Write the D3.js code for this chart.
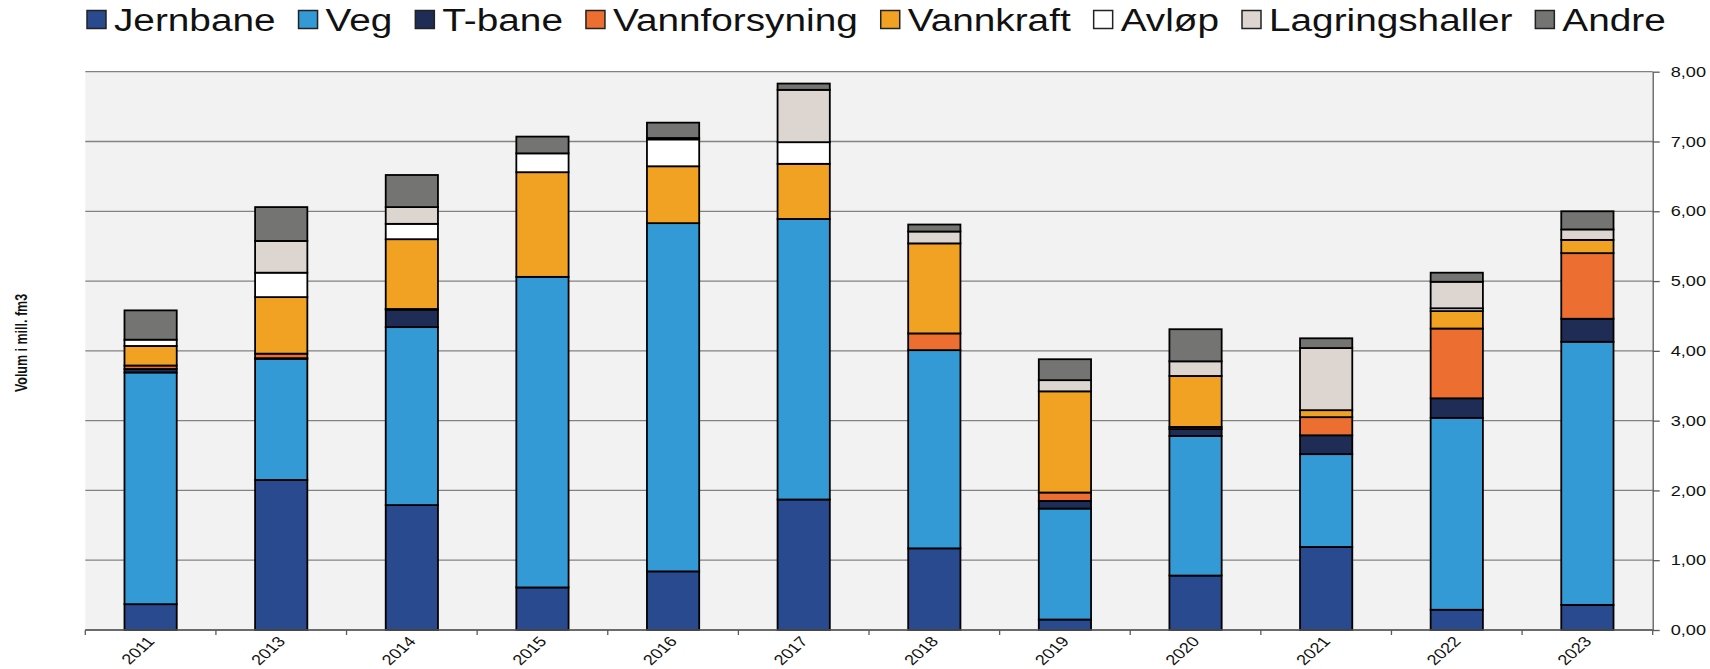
<!DOCTYPE html>
<html>
<head>
<meta charset="utf-8">
<script src="https://cdn.jsdelivr.net/npm/d3@7"></script>
<style>
  body { margin: 0; background: #fff; }
  text { font-family: "Liberation Sans", Arial, sans-serif; fill: #111; }
</style>
</head>
<body>
<div id="myChart"></div>
<script>
// categories
var years = ["2011", "2013", "2014", "2015", "2016", "2017", "2018", "2019", "2020", "2021", "2022", "2023"];

// volumes, mill. fm3
var jernbane       = [0.37, 2.15, 1.79, 0.61, 0.84, 1.87, 1.17, 0.15, 0.78, 1.19, 0.29, 0.36];
var veg            = [3.32, 1.735, 2.55, 4.45, 4.99, 4.02, 2.84, 1.59, 2.00, 1.33, 2.75, 3.77];
var tbane          = [0.05, 0.01, 0.25, 0, 0, 0, 0, 0.11, 0.10, 0.27, 0.28, 0.33];
var vannforsyning  = [0.05, 0.065, 0.01, 0, 0, 0, 0.24, 0.12, 0.03, 0.26, 1.00, 0.94];
var vannkraft      = [0.28, 0.81, 1.00, 1.50, 0.815, 0.79, 1.29, 1.45, 0.73, 0.10, 0.25, 0.19];
var avlop          = [0.09, 0.35, 0.22, 0.27, 0.385, 0.31, 0, 0, 0, 0, 0.04, 0];
var lagringshaller = [0, 0.455, 0.24, 0, 0.02, 0.75, 0.17, 0.16, 0.21, 0.89, 0.38, 0.15];
var andre          = [0.42, 0.485, 0.46, 0.24, 0.22, 0.09, 0.10, 0.30, 0.46, 0.14, 0.13, 0.26];

var seriesNames = ["Jernbane", "Veg", "T-bane", "Vannforsyning", "Vannkraft", "Avløp", "Lagringshaller", "Andre"];
var seriesValues = [jernbane, veg, tbane, vannforsyning, vannkraft, avlop, lagringshaller, andre];
var seriesColors = ["#294a8f", "#349ad5", "#1f2d56", "#ec6f31", "#f1a222", "#ffffff", "#ddd6d0", "#747472"];

var yTicks = [0, 1, 2, 3, 4, 5, 6, 7, 8];

// the original picture is stretched sideways, so text is too
var sx = 1.25;

const W = 1710, H = 669;
const margin = { top: 71.7, right: 57.3, bottom: 39, left: 85.3 };
const width = W - margin.left - margin.right;
const height = H - margin.top - margin.bottom;

var root = d3.select("#myChart")
  .append("svg")
  .attr("width", W)
  .attr("height", H);

var svg = root.append("g")
  .attr("transform", "translate(" + margin.left + "," + margin.top + ")");

var x = d3.scaleBand().domain(years).range([0, width]).paddingInner(0.6).paddingOuter(0.3);
var y = d3.scaleLinear().domain([0, 8]).range([height, 0]);

// plot background + gridlines
svg.append("rect")
  .attr("width", width)
  .attr("height", height)
  .attr("fill", "#f2f2f2");

svg.selectAll(".grid")
  .data(yTicks)
  .enter()
  .append("line")
  .attr("class", "grid")
  .attr("x1", 0)
  .attr("x2", width)
  .attr("y1", function(d) { return y(d); })
  .attr("y2", function(d) { return y(d); })
  .attr("stroke", "#828282")
  .attr("stroke-width", 1.3);

// stack the series
var rows = years.map(function(yr, i) {
  var r = { year: yr };
  seriesNames.forEach(function(name, k) { r[name] = seriesValues[k][i]; });
  return r;
});
var stacked = d3.stack().keys(seriesNames)(rows);

var layers = svg.selectAll(".layer")
  .data(stacked)
  .enter()
  .append("g")
  .attr("class", "layer")
  .attr("fill", function(d, i) { return seriesColors[i]; });

layers.selectAll("rect")
  .data(function(d) { return d.filter(function(p) { return p[1] - p[0] > 0; }); })
  .enter()
  .append("rect")
  .attr("x", function(d) { return x(d.data.year); })
  .attr("width", x.bandwidth())
  .attr("y", function(d) { return y(d[1]); })
  .attr("height", function(d) { return y(d[0]) - y(d[1]); })
  .attr("stroke", "#000")
  .attr("stroke-width", 1.8);

// right value axis
var loc = d3.formatLocale({ decimal: ",", thousands: " ", grouping: [3], currency: ["", ""] });
var yAxis = d3.axisRight(y)
  .tickValues(yTicks)
  .tickSize(7)
  .tickSizeOuter(0)
  .tickPadding(11)
  .tickFormat(loc.format(".2f"));

var ya = svg.append("g")
  .attr("transform", "translate(" + width + ",0)")
  .call(yAxis);
ya.select(".domain").attr("stroke", "#5a5a5a").attr("stroke-width", 1.3);
ya.selectAll(".tick line").attr("stroke", "#5a5a5a").attr("stroke-width", 1.3);
ya.selectAll(".tick text")
  .attr("font-family", "Liberation Sans, Arial, sans-serif")
  .attr("font-size", 14.5)
  .attr("fill", "#111")
  .attr("x", 18 / sx)
  .attr("transform", "scale(" + sx + ",1)");

// category axis: line, ticks between bars, slanted labels
svg.append("line")
  .attr("x1", 0).attr("x2", width)
  .attr("y1", height).attr("y2", height)
  .attr("stroke", "#5a5a5a")
  .attr("stroke-width", 1.3);

svg.selectAll(".xtick")
  .data(d3.range(years.length + 1))
  .enter()
  .append("line")
  .attr("class", "xtick")
  .attr("x1", function(i) { return i * x.step(); })
  .attr("x2", function(i) { return i * x.step(); })
  .attr("y1", height)
  .attr("y2", height + 5)
  .attr("stroke", "#5a5a5a")
  .attr("stroke-width", 1.3);

svg.selectAll(".xlabel")
  .data(years)
  .enter()
  .append("text")
  .attr("class", "xlabel")
  .attr("text-anchor", "end")
  .attr("font-size", 14.5)
  .attr("transform", function(d) {
    return "translate(" + (x(d) + x.bandwidth() / 2 + 5) + "," + (height + 12) + ") scale(" + sx + ",1) rotate(-48)";
  })
  .text(function(d) { return d; });

// y title
root.append("text")
  .attr("text-anchor", "middle")
  .attr("dominant-baseline", "central")
  .attr("font-size", 12.5)
  .attr("font-weight", "bold")
  .attr("transform", "translate(21,343) scale(" + sx + ",1) rotate(-90)")
  .text("Volum i mill. fm3");

// legend along the top
var legend = root.append("g").attr("class", "legend");
var lx = 87;
seriesNames.forEach(function(name, i) {
  legend.append("rect")
    .attr("x", lx)
    .attr("y", 10.5)
    .attr("width", 19)
    .attr("height", 18)
    .attr("fill", seriesColors[i])
    .attr("stroke", "#222")
    .attr("stroke-width", 1.5);
  var t = legend.append("text")
    .attr("font-size", 31)
    .attr("transform", "translate(" + (lx + 27) + ",30.5) scale(" + sx + ",1)")
    .text(name);
  var tw = t.node().getComputedTextLength() * sx;
  lx += 27 + tw + 23;
});
</script>
</body>
</html>
